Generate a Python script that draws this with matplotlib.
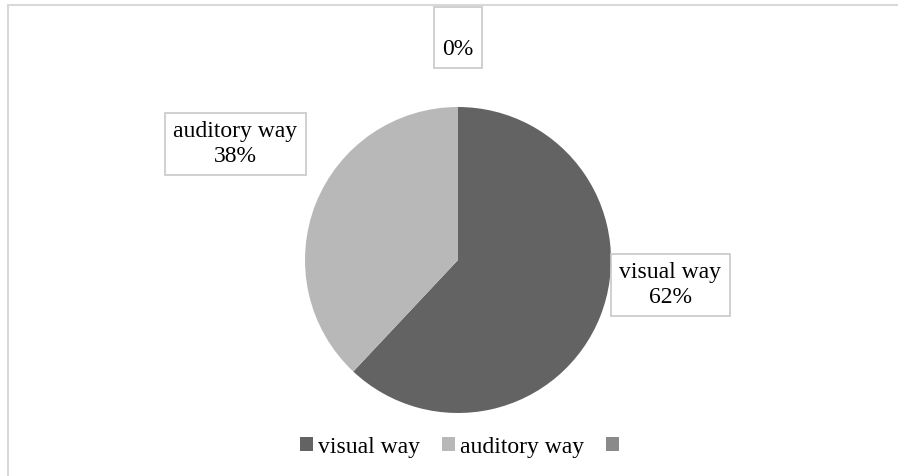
import matplotlib
matplotlib.use("Agg")
import matplotlib.pyplot as plt
from matplotlib.patches import Patch, Rectangle

categories = ["visual way", "auditory way", ""]
values = [62, 38, 0]
pct_labels = ["62%", "38%", "0%"]
colors = ["#636363", "#b8b8b8", "#8a8a8a"]

plt.rcParams['font.family'] = ['Liberation Serif', 'DejaVu Serif']

W, H = 898, 476
fig = plt.figure(figsize=(W / 100, H / 100), dpi=100)

# chart frame (extends past the right and bottom edges)
fig.patches.append(Rectangle((8 / W, -0.1), 1.2, 1.1 - 5 / H, transform=fig.transFigure,
                             fill=False, edgecolor="#d9d9d9", linewidth=1.5))

cx, cy, r = 458, 260, 153
ax = fig.add_axes([(cx - r) / W, (H - cy - r) / H, 2 * r / W, 2 * r / H])
wedges, _ = ax.pie(values, colors=colors, startangle=90, counterclock=False,
                   radius=1.0, wedgeprops=dict(linewidth=0))
ax.set_xlim(-1, 1)
ax.set_ylim(-1, 1)
ax.set_aspect("equal")
ax.axis("off")

box = dict(boxstyle="square,pad=0.36", facecolor="white", edgecolor="#c8c8c8", linewidth=1.2)
fs = 17
ax.text(1.386, -0.163, f"{categories[0]}\n{pct_labels[0]}", ha="center", va="center",
        fontsize=fs, linespacing=1.2, bbox=box, clip_on=False)
ax.text(-1.454, 0.758, f"{categories[1]}\n{pct_labels[1]}", ha="center", va="center",
        fontsize=fs, linespacing=1.2, bbox=box, clip_on=False)
ax.text(0.0, 1.455, f"\n{pct_labels[2]}", ha="center", va="center",
        fontsize=fs, linespacing=1.15, bbox=box, clip_on=False)

handles = [Patch(facecolor=c, edgecolor="none") for c in colors]
fig.legend(handles, categories, loc="center", bbox_to_anchor=(462 / W, 1 - 447 / H),
           ncol=3, frameon=False, fontsize=fs, handlelength=0.55, handleheight=0.55,
           handletextpad=0.2, columnspacing=0.95)

fig.savefig("out.png", dpi=100)
